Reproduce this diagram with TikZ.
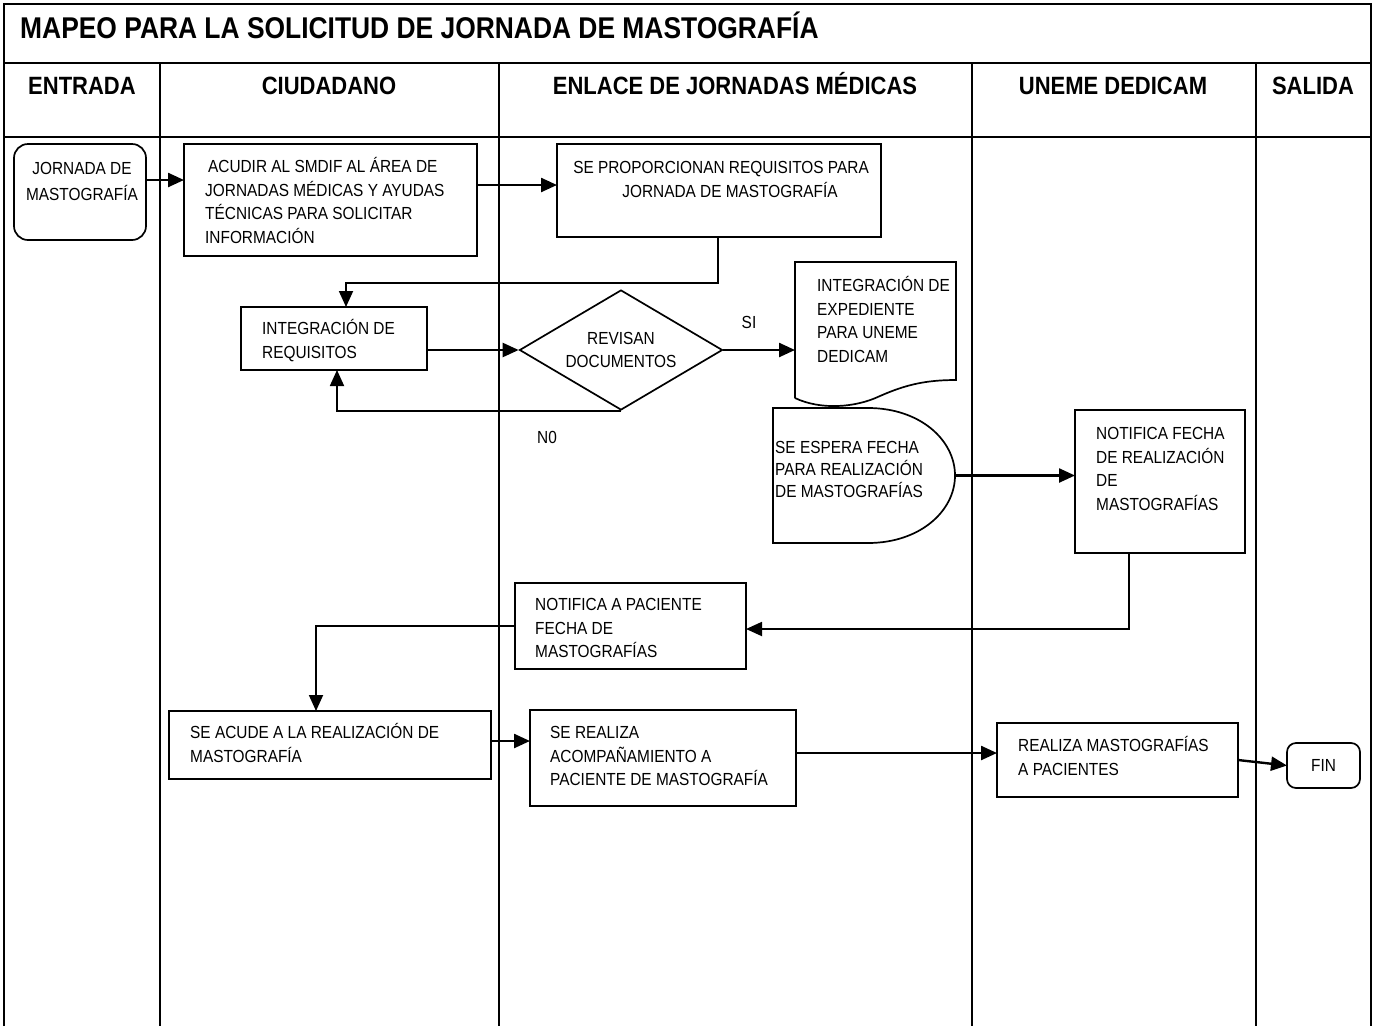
\documentclass[tikz,border=0pt]{standalone}
\usepackage{fontspec}
\setmainfont[FakeStretch=0.88]{Liberation Sans}
\usetikzlibrary{arrows.meta,shapes.geometric,calc}
\newcommand{\bodyfs}{\fontsize{17.5}{23.5}\selectfont}
\begin{document}
\begin{tikzpicture}[x=1pt,y=-1pt,
  tline/.style={line width=1.5pt},
  box/.style={draw, line width=1.7pt, anchor=north west, inner sep=0pt, outer sep=0pt},
  ghost/.style={anchor=north west, inner sep=0pt, outer sep=0pt},
  txt/.style={anchor=north west, inner sep=0pt, align=left, font=\bodyfs},
  ctxt/.style={anchor=north, inner sep=0pt, align=center, font=\bodyfs},
  hdr/.style={anchor=base, inner sep=0pt, font=\fontsize{25}{28}\selectfont\bfseries},
  arr/.style={line width=2.4pt, -{Triangle[length=16pt,width=14pt]}},
  arrthin/.style={line width=1.8pt, -{Triangle[length=16pt,width=14pt]}}
]
\useasboundingbox (0,0) rectangle (1376,1026);
% table frame
\draw[tline] (4,1026) -- (4,4) -- (1371,4) -- (1371,1026);
\draw[tline] (4,63) -- (1371,63);
\draw[tline] (4,137) -- (1371,137);
\foreach \xx in {160,499,972,1256} \draw[tline] (\xx,63) -- (\xx,1026);
% title and headers
\node[anchor=base west, inner sep=0pt, font=\fontsize{30}{32}\selectfont\bfseries] (title) at (20,38) {MAPEO PARA LA SOLICITUD DE JORNADA DE MASTOGRAFÍA};
\node[hdr] (h1) at (82,94) {ENTRADA};
\node[hdr] (h2) at (329,94) {CIUDADANO};
\node[hdr] (h3) at (735,94) {ENLACE DE JORNADAS MÉDICAS};
\node[hdr] (h4) at (1113,94) {UNEME DEDICAM};
\node[hdr] (h5) at (1313,94) {SALIDA};

% nodes
\node[box, rounded corners=14pt, minimum width=132, minimum height=96] (jor) at (14,144) {};
\node[ctxt] (jort) at (82,158) {\strut JORNADA DE\\[2.5pt]MASTOGRAFÍA};

\node[box, minimum width=293, minimum height=112] (acu) at (184,144) {};
\node[txt] (acut) at (205,156) {\strut\,ACUDIR AL SMDIF AL ÁREA DE\\JORNADAS MÉDICAS Y AYUDAS\\TÉCNICAS PARA SOLICITAR\\INFORMACIÓN};

\node[box, minimum width=324, minimum height=93] (pro) at (557,144) {};
\node[ctxt] (prot) at (721,157) {\strut SE PROPORCIONAN REQUISITOS PARA\\\hspace{18pt}JORNADA DE MASTOGRAFÍA};

\node[box, minimum width=186, minimum height=63] (int) at (241,307) {};
\node[txt] (intt) at (262,318) {\strut INTEGRACIÓN DE\\REQUISITOS};

\node[draw, line width=1.7pt, diamond, aspect=1.69, minimum width=203, minimum height=120, inner sep=0pt, align=center, font=\bodyfs] (rev) at (621,350) {REVISAN\\DOCUMENTOS};

% document shape
\node[ghost, minimum width=161, minimum height=146] (doc) at (795,262) {};
\draw[line width=1.7pt] (795,398) -- (795,262) -- (956,262) -- (956,380)
  .. controls (925,380) and (905,385) .. (880,396)
  .. controls (855,408) and (820,410) .. (795,398);
\node[txt] (doct) at (817,275) {\strut INTEGRACIÓN DE\\EXPEDIENTE\\PARA UNEME\\DEDICAM};

% delay shape
\node[ghost, minimum width=182, minimum height=135] (esp) at (773,408) {};
\draw[line width=1.7pt, fill=white] (773,408) -- (868,408)
  .. controls (920,408) and (955,440) .. (955,475.5)
  .. controls (955,511) and (920,543) .. (868,543) -- (773,543) -- cycle;
\node[txt] (espt) at (775,437) {\strut SE ESPERA FECHA\\[-1.5pt]PARA REALIZACIÓN\\[-1.5pt]DE MASTOGRAFÍAS};

\node[box, minimum width=170, minimum height=143] (nfe) at (1075,410) {};
\node[txt] (nfet) at (1096,423) {\strut NOTIFICA FECHA\\DE REALIZACIÓN\\DE\\MASTOGRAFÍAS};

\node[box, minimum width=231, minimum height=86] (npa) at (515,583) {};
\node[txt] (npat) at (535,594) {\strut NOTIFICA A PACIENTE\\FECHA DE\\MASTOGRAFÍAS};

\node[box, minimum width=322, minimum height=68] (sac) at (169,711) {};
\node[txt] (sact) at (190,722) {\strut SE ACUDE A LA REALIZACIÓN DE\\MASTOGRAFÍA};

\node[box, minimum width=266, minimum height=96] (sre) at (530,710) {};
\node[txt] (sret) at (550,722) {\strut SE REALIZA\\ACOMPAÑAMIENTO A\\PACIENTE DE MASTOGRAFÍA};

\node[box, minimum width=241, minimum height=74] (rma) at (997,723) {};
\node[txt] (rmat) at (1018,735) {\strut REALIZA MASTOGRAFÍAS\\A PACIENTES};

\node[box, rounded corners=9pt, minimum width=73, minimum height=45, font=\bodyfs] (fin) at (1287,743) {FIN};

% labels
\node[font=\bodyfs, inner sep=0pt] (si) at (749,322) {SI};
\node[font=\bodyfs, inner sep=0pt] (no) at (547,437) {N0};

% connectors
\draw[arr] ([yshift=-36pt]jor.north east) -- ([yshift=-36pt]acu.north west);
\draw[arr] ([yshift=-41pt]acu.north east) -- ([yshift=-41pt]pro.north west);
\draw[arrthin] ([xshift=161pt]pro.south west) -- ++(0,46) -| ([xshift=105pt]int.north west);
\draw[arr] (int.east |- rev.west) -- (rev.west);
\draw[arr] (rev.east) -- (doc.west |- rev.east);
\draw[arrthin] (rev.south) -| ([xshift=96pt]int.south west);
\draw[arr] (esp.east) -- (nfe.west |- esp.east);
\draw[arrthin] ([xshift=54pt]nfe.south west) |- ([yshift=-3pt]npa.east);
\draw[arrthin] (npa.west) -| ([xshift=147pt]sac.north west);
\draw[arr] ([yshift=-30pt]sac.north east) -- ([yshift=-31pt]sre.north west);
\draw[arr] ([yshift=-43pt]sre.north east) -- ([yshift=-30pt]rma.north west);
\draw[arr] ([yshift=-37pt]rma.north east) -- (fin.west);
\end{tikzpicture}
\end{document}
